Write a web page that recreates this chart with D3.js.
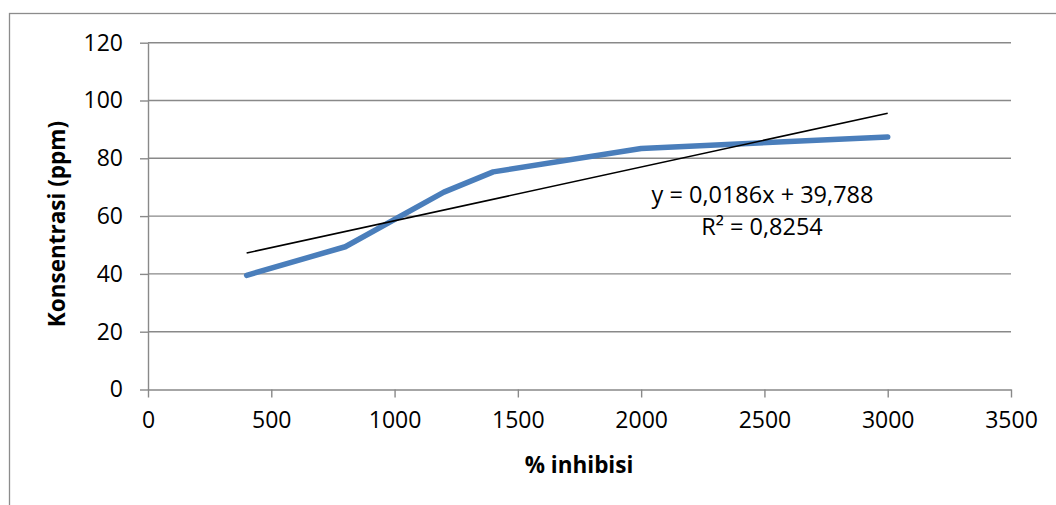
<!DOCTYPE html>
<html>
<head>
<meta charset="utf-8">
<script src="https://cdn.jsdelivr.net/npm/d3@7"></script>
<style>
  html, body { margin: 0; padding: 0; background: #fff; }
  svg { display: block; font-family: "Open Sans", "Liberation Sans", sans-serif; }
</style>
</head>
<body>
<svg id="chart" width="1056" height="505"></svg>
<script>
// Measured samples
const inhibisi = [400, 800, 1200, 1400, 2000, 3000];
const konsentrasi = [39.5, 49.4, 68.3, 75.3, 83.4, 87.4];

// Linear trend reported for the series
const trendSlope = 0.0186;
const trendIntercept = 39.788;
const trendLabel = "y = 0,0186x + 39,788";
const r2Label = "R² = 0,8254";

const xTicks = [0, 500, 1000, 1500, 2000, 2500, 3000, 3500];
const yTicks = [0, 20, 40, 60, 80, 100, 120];

const W = 1056, H = 505;
const plot = { left: 148, right: 1011, top: 42.7, bottom: 389.5 };
const tickFont = 23;

const svg = d3.select("#chart");

// Outer chart frame (runs off the right and bottom edges)
svg.append("rect")
  .attr("x", 9.5).attr("y", 13.5)
  .attr("width", W + 20).attr("height", H + 20)
  .attr("fill", "none").attr("stroke", "#8c8c8c").attr("stroke-width", 1.3);

const x = d3.scaleLinear().domain([0, 3500]).range([plot.left, plot.right]);
const y = d3.scaleLinear().domain([0, 120]).range([plot.bottom, plot.top]);

const gridColor = "#898989";

// Horizontal gridlines
svg.append("g")
  .selectAll("line")
  .data(yTicks.filter(d => d > 0))
  .join("line")
  .attr("x1", plot.left).attr("x2", plot.right)
  .attr("y1", d => y(d)).attr("y2", d => y(d))
  .attr("stroke", gridColor).attr("stroke-width", 1.4);

// Y axis
const yAxis = svg.append("g")
  .attr("transform", `translate(${plot.left},0)`)
  .call(d3.axisLeft(y).tickValues(yTicks).tickFormat(d3.format("d"))
    .tickSize(8).tickPadding(17).tickSizeOuter(0));
yAxis.select(".domain").attr("stroke", gridColor).attr("stroke-width", 1.4);
yAxis.selectAll(".tick line").attr("stroke", gridColor).attr("stroke-width", 1.4);
yAxis.selectAll(".tick text")
  .attr("font-size", tickFont).attr("fill", "#000")
  .attr("font-family", "Open Sans, Liberation Sans, sans-serif");

// X axis
const xAxis = svg.append("g")
  .attr("transform", `translate(0,${plot.bottom})`)
  .call(d3.axisBottom(x).tickValues(xTicks).tickFormat(d3.format("d"))
    .tickSize(8).tickPadding(14).tickSizeOuter(0));
xAxis.select(".domain").attr("stroke", gridColor).attr("stroke-width", 1.4);
xAxis.selectAll(".tick line").attr("stroke", gridColor).attr("stroke-width", 1.4);
xAxis.selectAll(".tick text")
  .attr("font-size", tickFont).attr("fill", "#000")
  .attr("font-family", "Open Sans, Liberation Sans, sans-serif");

// Data series
const pts = inhibisi.map((v, i) => [v, konsentrasi[i]]);
svg.append("path")
  .datum(pts)
  .attr("fill", "none")
  .attr("stroke", "#4a7ebb")
  .attr("stroke-width", 5.5)
  .attr("stroke-linejoin", "round")
  .attr("stroke-linecap", "round")
  .attr("d", d3.line().x(d => x(d[0])).y(d => y(d[1])));

// Linear trendline across the data range
const xMin = d3.min(inhibisi), xMax = d3.max(inhibisi);
const trend = [xMin, xMax].map(v => [v, trendSlope * v + trendIntercept]);
svg.append("path")
  .datum(trend)
  .attr("fill", "none")
  .attr("stroke", "#000")
  .attr("stroke-width", 1.6)
  .attr("d", d3.line().x(d => x(d[0])).y(d => y(d[1])));

// Trend equation
svg.append("text")
  .attr("x", 762.5).attr("y", 203)
  .attr("text-anchor", "middle")
  .attr("font-size", 23.5).attr("fill", "#000")
  .text(trendLabel);
svg.append("text")
  .attr("x", 762).attr("y", 235)
  .attr("text-anchor", "middle")
  .attr("font-size", 23.5).attr("fill", "#000")
  .text(r2Label);

// Axis titles
svg.append("text")
  .attr("x", 579).attr("y", 473)
  .attr("text-anchor", "middle")
  .attr("font-size", 22.5).attr("font-weight", "bold").attr("fill", "#000")
  .text("% inhibisi");

svg.append("text")
  .attr("transform", `translate(65,${(plot.top + plot.bottom) / 2 + 8}) rotate(-90)`)
  .attr("text-anchor", "middle")
  .attr("font-size", 22.5).attr("font-weight", "bold").attr("fill", "#000")
  .text("Konsentrasi (ppm)");
</script>
</body>
</html>
